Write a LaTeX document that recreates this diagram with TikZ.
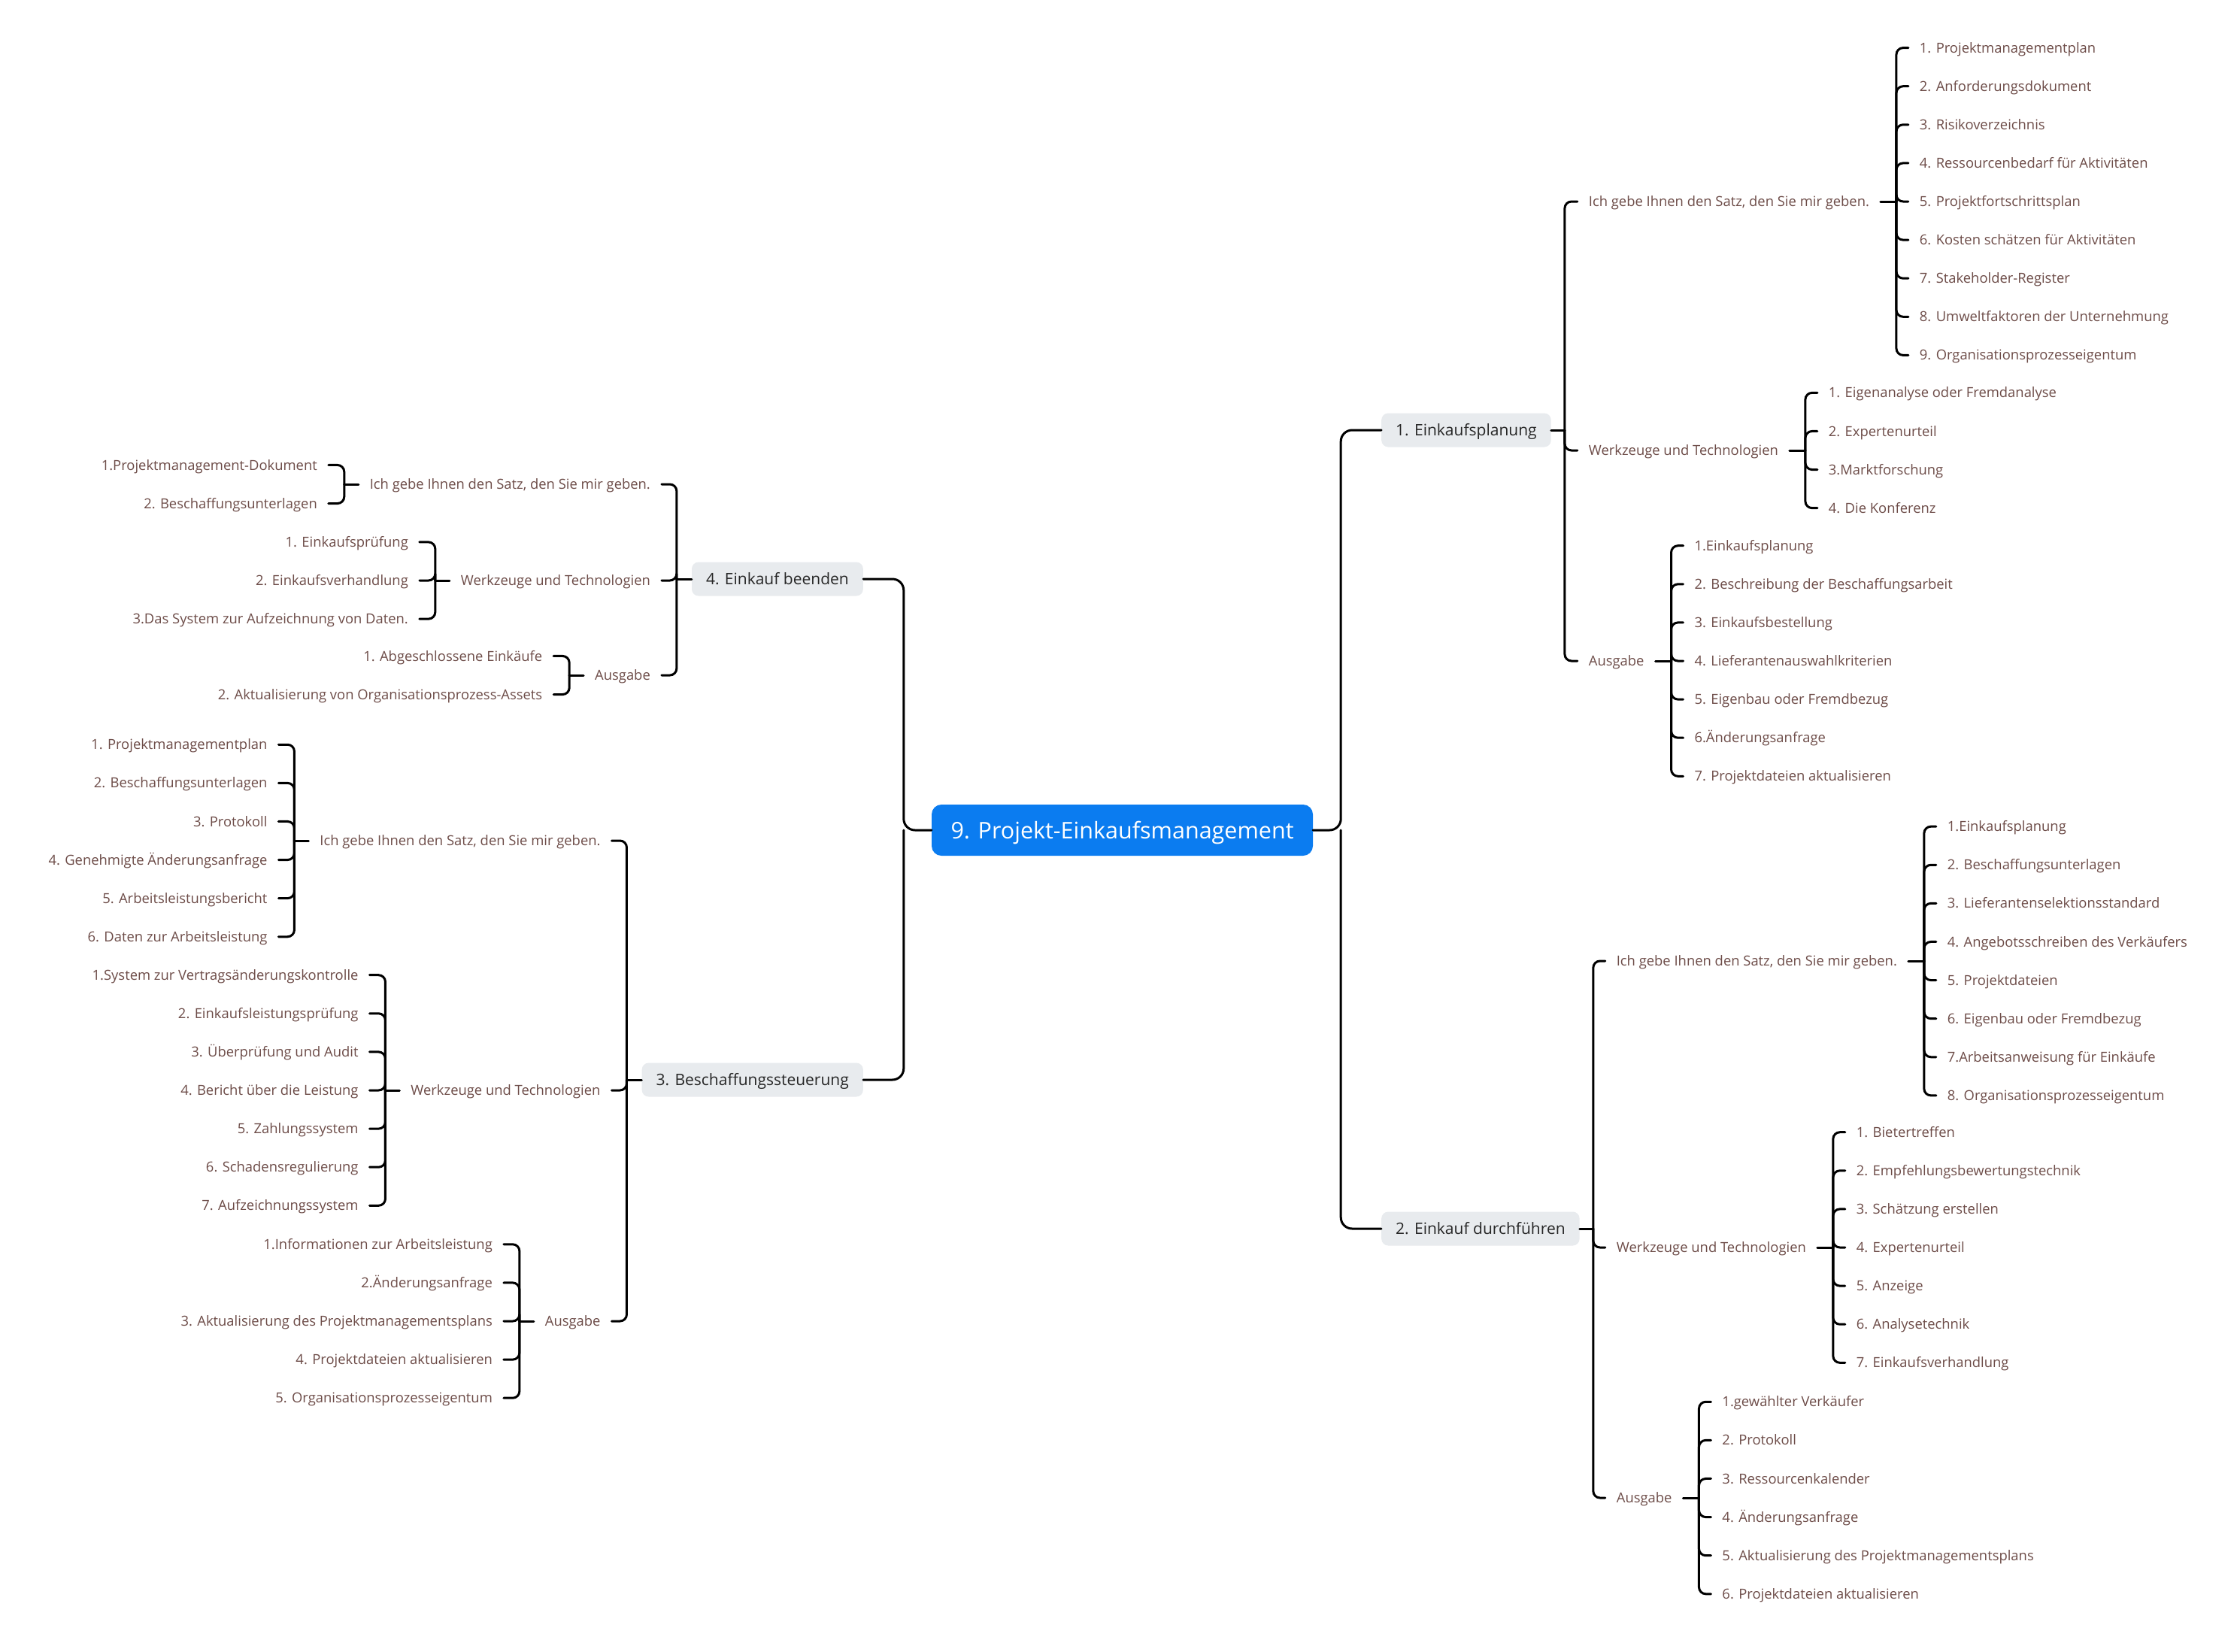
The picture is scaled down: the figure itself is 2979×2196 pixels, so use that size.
\documentclass[tikz,border=0pt]{standalone}
\usepackage{fontspec}
\setmainfont{Open Sans}
\usetikzlibrary{calc}
\definecolor{leafbrown}{RGB}{109,76,72}
\definecolor{rootblue}{RGB}{11,124,240}
\definecolor{topicgray}{RGB}{232,235,238}
\tikzset{
  leaf/.style={text=leafbrown,font=\fontsize{18.4}{21}\selectfont,inner xsep=0pt,inner ysep=0pt,outer xsep=15pt,text height=13.1pt,text depth=0pt},
  sub/.style={leaf},
  topic/.style={fill=topicgray,text=black!85,rounded corners=9pt,font=\fontsize{21}{25}\selectfont,inner xsep=19pt,inner ysep=0pt,minimum height=45pt,text height=15pt,text depth=0pt},
  root/.style={fill=rootblue,text=white,rounded corners=13pt,font=\fontsize{30.5}{36}\selectfont,minimum width=507pt,minimum height=68pt,inner ysep=0pt,text height=22pt,text depth=0pt},
  link/.style={line width=3pt,line cap=round,rounded corners=9pt}
}
\begin{document}
\begin{tikzpicture}[x=1pt,y=-1pt]
\fill[white] (0,0) rectangle (2979,2196);
\useasboundingbox (0,0) rectangle (2979,2196);
% centre and the four phases
\node[root] (root) at (1492.5,1104) {9. Projekt-Einkaufsmanagement};
\node[topic,anchor=west] (e1) at (1837,572) {1. Einkaufsplanung};
\node[topic,anchor=west] (e2) at (1837,1634) {2. Einkauf durchführen};
\node[topic,anchor=east] (b4) at (1148,770) {4. Einkauf beenden};
\node[topic,anchor=east] (s3) at (1148,1436) {3. Beschaffungssteuerung};
\coordinate (rj) at ([xshift=37]root.east);
\coordinate (lj) at ([xshift=-37]root.west);
\draw[link,rounded corners=15pt] (root.east) -- (rj) |- (e1.west);
\draw[link,rounded corners=15pt] (rj) |- (e2.west);
\draw[link,rounded corners=15pt] (root.west) -- (lj) |- (b4.east);
\draw[link,rounded corners=15pt] (lj) |- (s3.east);
% right side: inputs, tools, outputs
\coordinate (e1-j) at ([xshift=18]e1.east);
\coordinate (e1-c) at ([xshift=17]e1-j);
\node[sub,anchor=west] (e1a) at (e1-c |- 0,268) {Ich gebe Ihnen den Satz, den Sie mir geben.};
\node[sub,anchor=west] (e1b) at (e1-c |- 0,599) {Werkzeuge und Technologien};
\node[sub,anchor=west] (e1c) at (e1-c |- 0,879) {Ausgabe};
\coordinate (e2-j) at ([xshift=18]e2.east);
\coordinate (e2-c) at ([xshift=16]e2-j);
\node[sub,anchor=west] (e2a) at (e2-c |- 0,1278) {Ich gebe Ihnen den Satz, den Sie mir geben.};
\node[sub,anchor=west] (e2b) at (e2-c |- 0,1659) {Werkzeuge und Technologien};
\node[sub,anchor=west] (e2c) at (e2-c |- 0,1992) {Ausgabe};
\foreach \n in {e1,e2} {
  \draw[link] (\n.east) -- (\n-j);
  \foreach \k in {a,b,c} \draw[link] (\n-j) |- (\n\k.west);
}
% left side
\coordinate (b4-j) at ([xshift=-20]b4.west);
\coordinate (b4-c) at ([xshift=-20]b4-j);
\node[sub,anchor=east] (b4a) at (b4-c |- 0,644) {Ich gebe Ihnen den Satz, den Sie mir geben.};
\node[sub,anchor=east] (b4b) at (b4-c |- 0,772) {Werkzeuge und Technologien};
\node[sub,anchor=east] (b4c) at (b4-c |- 0,898) {Ausgabe};
\coordinate (s3-j) at ([xshift=-20]s3.west);
\coordinate (s3-c) at ([xshift=-20]s3-j);
\node[sub,anchor=east] (s3a) at (s3-c |- 0,1118) {Ich gebe Ihnen den Satz, den Sie mir geben.};
\node[sub,anchor=east] (s3b) at (s3-c |- 0,1450) {Werkzeuge und Technologien};
\node[sub,anchor=east] (s3c) at (s3-c |- 0,1757) {Ausgabe};
\foreach \n in {b4,s3} {
  \draw[link] (\n.west) -- (\n-j);
  \foreach \k in {a,b,c} \draw[link] (\n-j) |- (\n\k.east);
}
% leaves, right
\coordinate (e1a-j) at ([xshift=21]e1a.east);
\draw[link] (e1a.east) -- (e1a-j);
\foreach \t [count=\i] in {1. Projektmanagementplan, 2. Anforderungsdokument, 3. Risikoverzeichnis, 4. Ressourcenbedarf für Aktivitäten, 5. Projektfortschrittsplan, 6. Kosten schätzen für Aktivitäten, 7. Stakeholder-Register, 8. Umweltfaktoren der Unternehmung, 9. Organisationsprozesseigentum} {
  \node[leaf,anchor=west] (e1a-\i) at ($(e1a-j)+(16,{(\i-5)*51.1})$) {\t};
  \draw[link] (e1a-j) |- (e1a-\i.west);
}
\coordinate (e1b-j) at ([xshift=21]e1b.east);
\draw[link] (e1b.east) -- (e1b-j);
\foreach \t [count=\i] in {1. Eigenanalyse oder Fremdanalyse, 2. Expertenurteil, 3.Marktforschung, 4. Die Konferenz} {
  \node[leaf,anchor=west] (e1b-\i) at ($(e1b-j)+(16,{(\i-2.5)*51.1})$) {\t};
  \draw[link] (e1b-j) |- (e1b-\i.west);
}
\coordinate (e1c-j) at ([xshift=21]e1c.east);
\draw[link] (e1c.east) -- (e1c-j);
\foreach \t [count=\i] in {1.Einkaufsplanung, 2. Beschreibung der Beschaffungsarbeit, 3. Einkaufsbestellung, 4. Lieferantenauswahlkriterien, 5. Eigenbau oder Fremdbezug, 6.Änderungsanfrage, 7. Projektdateien aktualisieren} {
  \node[leaf,anchor=west] (e1c-\i) at ($(e1c-j)+(16,{(\i-4)*51.1})$) {\t};
  \draw[link] (e1c-j) |- (e1c-\i.west);
}
\coordinate (e2a-j) at ([xshift=21]e2a.east);
\draw[link] (e2a.east) -- (e2a-j);
\foreach \t [count=\i] in {1.Einkaufsplanung, 2. Beschaffungsunterlagen, 3. Lieferantenselektionsstandard, 4. Angebotsschreiben des Verkäufers, 5. Projektdateien, 6. Eigenbau oder Fremdbezug, 7.Arbeitsanweisung für Einkäufe, 8. Organisationsprozesseigentum} {
  \node[leaf,anchor=west] (e2a-\i) at ($(e2a-j)+(16,{(\i-4.5)*51.1})$) {\t};
  \draw[link] (e2a-j) |- (e2a-\i.west);
}
\coordinate (e2b-j) at ([xshift=21]e2b.east);
\draw[link] (e2b.east) -- (e2b-j);
\foreach \t [count=\i] in {1. Bietertreffen, 2. Empfehlungsbewertungstechnik, 3. Schätzung erstellen, 4. Expertenurteil, 5. Anzeige, 6. Analysetechnik, 7. Einkaufsverhandlung} {
  \node[leaf,anchor=west] (e2b-\i) at ($(e2b-j)+(16,{(\i-4)*51.1})$) {\t};
  \draw[link] (e2b-j) |- (e2b-\i.west);
}
\coordinate (e2c-j) at ([xshift=21]e2c.east);
\draw[link] (e2c.east) -- (e2c-j);
\foreach \t [count=\i] in {1.gewählter Verkäufer, 2. Protokoll, 3. Ressourcenkalender, 4. Änderungsanfrage, 5. Aktualisierung des Projektmanagementsplans, 6. Projektdateien aktualisieren} {
  \node[leaf,anchor=west] (e2c-\i) at ($(e2c-j)+(16,{(\i-3.5)*51.1})$) {\t};
  \draw[link] (e2c-j) |- (e2c-\i.west);
}
% leaves, left
\coordinate (b4a-j) at ([xshift=-19]b4a.west);
\draw[link] (b4a.west) -- (b4a-j);
\foreach \t [count=\i] in {1.Projektmanagement-Dokument, 2. Beschaffungsunterlagen} {
  \node[leaf,anchor=east] (b4a-\i) at ($(b4a-j)+(-21,{(\i-1.5)*51.1})$) {\t};
  \draw[link] (b4a-j) |- (b4a-\i.east);
}
\coordinate (b4b-j) at ([xshift=-19]b4b.west);
\draw[link] (b4b.west) -- (b4b-j);
\foreach \t [count=\i] in {1. Einkaufsprüfung, 2. Einkaufsverhandlung, 3.Das System zur Aufzeichnung von Daten.} {
  \node[leaf,anchor=east] (b4b-\i) at ($(b4b-j)+(-21,{(\i-2)*51.1})$) {\t};
  \draw[link] (b4b-j) |- (b4b-\i.east);
}
\coordinate (b4c-j) at ([xshift=-19]b4c.west);
\draw[link] (b4c.west) -- (b4c-j);
\foreach \t [count=\i] in {1. Abgeschlossene Einkäufe, 2. Aktualisierung von Organisationsprozess-Assets} {
  \node[leaf,anchor=east] (b4c-\i) at ($(b4c-j)+(-21,{(\i-1.5)*51.1})$) {\t};
  \draw[link] (b4c-j) |- (b4c-\i.east);
}
\coordinate (s3a-j) at ([xshift=-19]s3a.west);
\draw[link] (s3a.west) -- (s3a-j);
\foreach \t [count=\i] in {1. Projektmanagementplan, 2. Beschaffungsunterlagen, 3. Protokoll, 4. Genehmigte Änderungsanfrage, 5. Arbeitsleistungsbericht, 6. Daten zur Arbeitsleistung} {
  \node[leaf,anchor=east] (s3a-\i) at ($(s3a-j)+(-21,{(\i-3.5)*51.1})$) {\t};
  \draw[link] (s3a-j) |- (s3a-\i.east);
}
\coordinate (s3b-j) at ([xshift=-19]s3b.west);
\draw[link] (s3b.west) -- (s3b-j);
\foreach \t [count=\i] in {1.System zur Vertragsänderungskontrolle, 2. Einkaufsleistungsprüfung, 3. Überprüfung und Audit, 4. Bericht über die Leistung, 5. Zahlungssystem, 6. Schadensregulierung, 7. Aufzeichnungssystem} {
  \node[leaf,anchor=east] (s3b-\i) at ($(s3b-j)+(-21,{(\i-4)*51.1})$) {\t};
  \draw[link] (s3b-j) |- (s3b-\i.east);
}
\coordinate (s3c-j) at ([xshift=-19]s3c.west);
\draw[link] (s3c.west) -- (s3c-j);
\foreach \t [count=\i] in {1.Informationen zur Arbeitsleistung, 2.Änderungsanfrage, 3. Aktualisierung des Projektmanagementsplans, 4. Projektdateien aktualisieren, 5. Organisationsprozesseigentum} {
  \node[leaf,anchor=east] (s3c-\i) at ($(s3c-j)+(-21,{(\i-3)*51.1})$) {\t};
  \draw[link] (s3c-j) |- (s3c-\i.east);
}
\end{tikzpicture}
\end{document}
